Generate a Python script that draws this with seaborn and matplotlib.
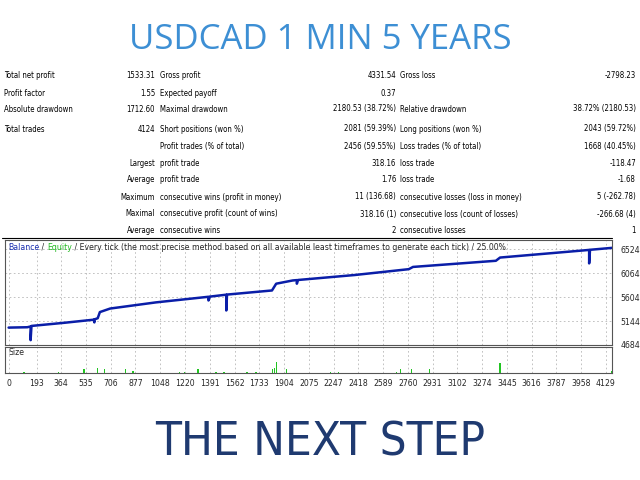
import matplotlib
matplotlib.use("Agg")
import matplotlib.pyplot as plt
import seaborn as sns

# report table rows: (label1, value1, label2, value2, label3, value3)
summary_rows = [
    ("Total net profit", "1533.31", "Gross profit", "4331.54", "Gross loss", "-2798.23"),
    ("Profit factor", "1.55", "Expected payoff", "0.37", "", ""),
    ("Absolute drawdown", "1712.60", "Maximal drawdown", "2180.53 (38.72%)", "Relative drawdown", "38.72% (2180.53)"),
    ("Total trades", "4124", "Short positions (won %)", "2081 (59.39%)", "Long positions (won %)", "2043 (59.72%)"),
]
detail_rows = [
    ("", "Profit trades (% of total)", "2456 (59.55%)", "Loss trades (% of total)", "1668 (40.45%)"),
    ("Largest", "profit trade", "318.16", "loss trade", "-118.47"),
    ("Average", "profit trade", "1.76", "loss trade", "-1.68"),
    ("Maximum", "consecutive wins (profit in money)", "11 (136.68)", "consecutive losses (loss in money)", "5 (-262.78)"),
    ("Maximal", "consecutive profit (count of wins)", "318.16 (1)", "consecutive loss (count of losses)", "-266.68 (4)"),
    ("Average", "consecutive wins", "2", "consecutive losses", "1"),
]

# balance curve (trade number, balance) incl. drawdown spikes
trade_no = [0, 129, 152, 152, 158, 387, 588, 593, 593, 616, 631, 702, 1018, 1382, 1382, 1391,
            1505, 1505, 1510, 1821, 1850, 1964, 1993, 1993, 2000, 2394, 2767, 2796, 3369, 3398,
            3971, 4014, 4014, 4020, 4172]
balance = [5018, 5025, 5040, 4777, 5050, 5111, 5170, 5118, 5175, 5198, 5316, 5384, 5502, 5610, 5539, 5613,
           5650, 5347, 5652, 5731, 5861, 5923, 5930, 5861, 5932, 6028, 6140, 6183, 6301, 6363,
           6499, 6510, 6251, 6512, 6549]

# lot size bars
size_x = [106, 344, 522, 616, 665, 808, 860, 1180, 1218, 1310, 1433, 1490, 1648, 1711,
          1826, 1840, 1854, 1920, 2227, 2279, 2680, 2709, 2787, 2910, 3398, 4172]
size_h = [3, 3, 12, 14, 12, 12, 4, 3, 3, 12, 3, 3, 3, 3, 10, 15, 33, 12, 3, 3, 3, 12, 12, 12, 30, 4]

x_ticks = [0, 193, 364, 535, 706, 877, 1048, 1220, 1391, 1562, 1733, 1904, 2075, 2247, 2418,
           2589, 2760, 2931, 3102, 3274, 3445, 3616, 3787, 3958, 4129]
y_ticks = [4684, 5144, 5604, 6064, 6524]

sns.set_theme(style="white")
plt.rcParams["font.family"] = ["DejaVu Sans"]

W, H = 640, 480
fig = plt.figure(figsize=(6.4, 4.8), dpi=100)
fig.patch.set_facecolor("white")


def px(x, y, s, ha="left", **kw):
    fig.text(x / W, 1 - y / H, s, ha=ha, va="center", fontsize=5.6, color="black",
             fontstretch="condensed", **kw)


fig.text(0.5, 1 - 40 / H, "USDCAD 1 MIN 5 YEARS", ha="center", va="center",
         fontsize=25, color="#3d8fd4", family=["Open Sans", "DejaVu Sans"])
fig.text(0.5, 1 - 443 / H, "THE NEXT STEP", ha="center", va="center",
         fontsize=34, color="#1f3a70", fontstretch="condensed", family=["DejaVu Sans"])

ys = [76, 93, 109, 129]
for y, r in zip(ys, summary_rows):
    px(4, y, r[0]); px(155, y, r[1], "right")
    px(160, y, r[2]); px(396, y, r[3], "right")
    px(400, y, r[4]); px(636, y, r[5], "right")
for i, r in enumerate(detail_rows):
    y = 146 + i * 17
    px(155, y, r[0], "right")
    px(160, y, r[1]); px(396, y, r[2], "right")
    px(400, y, r[3]); px(636, y, r[4], "right")
fig.add_artist(plt.Line2D([2 / W, 612 / W], [1 - 238 / H] * 2, color="black", lw=0.8))

xmax = 4172
ax = fig.add_axes([5 / W, 1 - 345 / H, 607 / W, 105 / H])
sns.lineplot(x=trade_no, y=balance, ax=ax, color="#0a1ea8", lw=1.8, estimator=None, sort=False)
ax.set_xlim(-25, xmax)
ax.set_ylim(4684, 6700)
ax.yaxis.tick_right()
ax.set_yticks(y_ticks)
ax.set_xticks(x_ticks)
ax.set_xticklabels([])
ax.tick_params(axis="y", labelsize=5.6, length=0, pad=6)
ax.tick_params(axis="x", length=0)
ax.grid(True, ls=(0, (2, 3)), color="#b8b8b8", lw=0.6)
for s in ax.spines.values():
    s.set_color("#555555"); s.set_linewidth(0.8)
ax.set_xlabel(""); ax.set_ylabel("")
t = ax.text(0.005, 0.93, "Balance", color="#1a2fb0", fontsize=5.6, transform=ax.transAxes, va="center")
t = ax.annotate(" / ", xy=(1, 0), xycoords=t, fontsize=5.6, va="bottom")
t = ax.annotate("Equity", xy=(1, 0), xycoords=t, fontsize=5.6, va="bottom", color="#22b822")
ax.annotate(" / Every tick (the most precise method based on all available least timeframes to generate each tick) / 25.00%",
            xy=(1, 0), xycoords=t, fontsize=5.6, va="bottom")

ax2 = fig.add_axes([5 / W, 1 - 373 / H, 607 / W, 26 / H])
ax2.bar(size_x, size_h, width=9, color="#22c422", bottom=1, linewidth=0, zorder=3)
ax2.set_xlim(-25, xmax)
ax2.set_ylim(0, 80)
ax2.set_yticks([])
ax2.set_xticks(x_ticks)
ax2.set_xticklabels([str(v) for v in x_ticks])
ax2.tick_params(axis="x", labelsize=5.6, length=2, pad=2)
ax2.grid(True, axis="x", ls=(0, (2, 3)), color="#b8b8b8", lw=0.6)
for s in ax2.spines.values():
    s.set_color("#555555"); s.set_linewidth(0.8)
ax2.text(0.005, 0.8, "Size", fontsize=5.6, transform=ax2.transAxes, va="center")

fig.savefig("out.png", dpi=100)
